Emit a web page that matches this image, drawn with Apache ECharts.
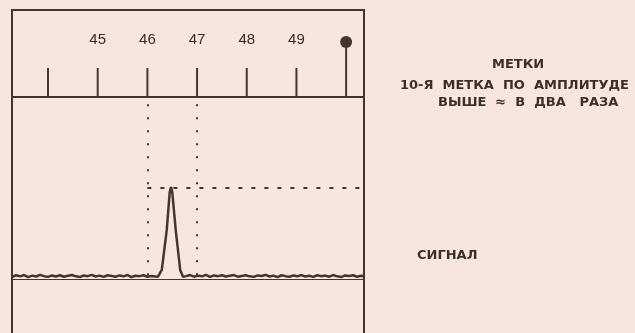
<!DOCTYPE html>
<html><head><meta charset="utf-8">
<script src="https://cdn.jsdelivr.net/npm/echarts@6/dist/echarts.min.js"></script>
<style>html,body{margin:0;padding:0;background:#f6e6df;}#c{width:635px;height:333px;}</style>
</head><body><div id="c"></div>
<script>
// Marker positions (frequency units) and their heights
const markX = [44, 45, 46, 47, 48, 49, 50];
const markH = [1, 1, 1, 1, 1, 1, 1.9];
const markLabels = ['', '45', '46', '47', '48', '49', ''];
// Signal trace (x in same units, y amplitude)
const signalX = [43.28,43.36,43.44,43.52,43.60,43.68,43.76,43.84,43.92,44.00,44.08,44.16,44.24,44.32,44.40,44.48,44.56,44.64,44.72,44.80,44.88,44.96,45.04,45.12,45.20,45.28,45.36,45.44,45.52,45.60,45.68,45.76,45.84,45.92,46.00,46.08,46.16,
  46.21,46.29,46.39,46.45,46.476,46.50,46.57,46.66,46.72,
  46.78,46.86,46.94,47.02,47.10,47.18,47.26,47.34,47.42,47.50,47.58,47.66,47.74,47.82,47.90,47.98,48.06,48.14,48.22,48.30,48.38,48.46,48.54,48.62,48.70,48.78,48.86,48.94,49.02,49.10,49.18,49.26,49.34,49.42,49.50,49.58,49.66,49.74,49.82,49.90,49.98,50.06,50.14,50.22,50.30,50.36];
const signalY = [1.2,2.0,1.4,2.1,1.0,1.8,1.3,2.2,1.5,1.1,1.9,1.3,2.0,1.2,1.7,2.1,1.4,1.0,1.9,1.5,2.2,1.3,1.8,1.1,2.0,1.6,1.2,1.9,1.4,2.1,1.0,1.7,1.5,2.0,1.2,1.6,1.3,
  1.1,4.9,26.9,47.8,50.5,47.8,26.9,4.9,1.1,
  1.5,2.1,1.2,1.8,1.4,2.2,1.1,1.9,1.5,2.0,1.3,1.7,2.1,1.2,1.6,2.0,1.4,1.1,1.9,1.6,2.2,1.3,1.8,1.0,2.0,1.5,1.2,1.9,1.4,2.1,1.3,1.7,1.1,2.0,1.5,1.8,1.2,2.1,1.4,1.0,1.9,1.6,2.0,1.2,1.7,1.3];
// Guide lines
const guideX = [46, 47];
const ampLevel = 50;

const ink = '#433630';
const xMin = 43.275, xMax = 50.36;
const chart = echarts.init(document.getElementById('c'), null, {renderer: 'canvas'});
const sig = signalX.map((x, i) => [x, signalY[i]]);
const tf = 'bold 13px "DejaVu Sans"';
chart.setOption({
  backgroundColor: '#f6e6df',
  animation: false,
  grid: [
    {left: 12, top: 10, width: 352, height: 87, show: true, borderColor: ink, borderWidth: 2, backgroundColor: 'transparent', outerBoundsMode: 'none', containLabel: false},
    {left: 12, top: 97, width: 352, height: 251, show: true, borderColor: ink, borderWidth: 2, backgroundColor: 'transparent', outerBoundsMode: 'none', containLabel: false}
  ],
  xAxis: [
    {gridIndex: 0, type: 'value', min: xMin, max: xMax, axisLine: {show: true, lineStyle: {color: ink, width: 2}}, axisTick: {show: false}, axisLabel: {show: false}, splitLine: {show: false}},
    {gridIndex: 1, type: 'value', min: xMin, max: xMax, axisLine: {show: true, onZero: true, lineStyle: {color: ink, width: 1}}, axisTick: {show: false}, axisLabel: {show: false}, splitLine: {show: false}}
  ],
  yAxis: [
    {gridIndex: 0, type: 'value', min: 0, max: 3, show: false, splitLine: {show: false}},
    {gridIndex: 1, type: 'value', min: -38, max: 100, show: false, splitLine: {show: false}}
  ],
  series: [
    {type: 'bar', xAxisIndex: 0, yAxisIndex: 0, barWidth: 2,
     data: markX.map((x, i) => [x, markH[i]]),
     itemStyle: {color: ink},
     label: {show: true, position: 'top', distance: 21, color: '#352b26', fontSize: 15, fontFamily: 'Liberation Sans, Arial, sans-serif',
       formatter: p => markLabels[p.dataIndex]}},
    {type: 'scatter', xAxisIndex: 0, yAxisIndex: 0, symbol: 'circle', symbolSize: 12,
     data: [[markX[6], markH[6]]], itemStyle: {color: ink, opacity: 1}},
    {type: 'line', xAxisIndex: 1, yAxisIndex: 1, data: sig, showSymbol: false, symbol: 'none',
     lineStyle: {color: ink, width: 2.5},
     markLine: {silent: true, symbol: 'none', label: {show: false},
       lineStyle: {color: ink, width: 2, type: [2, 11]},
       data: [
         [{coord: [guideX[0], 2]}, {coord: [guideX[0], 100]}],
         [{coord: [guideX[1], 2]}, {coord: [guideX[1], 100]}],
         [{coord: [guideX[0], ampLevel], lineStyle: {type: [4, 9]}}, {coord: [xMax, ampLevel]}]
       ]}}
  ],
  graphic: [
    {type: 'text', left: 492, top: 58, style: {text: 'МЕТКИ', fill: '#3a302b', font: tf}},
    {type: 'text', left: 400, top: 79, style: {text: '10-Я  МЕТКА  ПО  АМПЛИТУДЕ', fill: '#3a302b', font: tf}},
    {type: 'text', left: 438, top: 96, style: {text: 'ВЫШЕ  ≈  В  ДВА   РАЗА', fill: '#3a302b', font: tf}},
    {type: 'text', left: 417, top: 249, style: {text: 'СИГНАЛ', fill: '#3a302b', font: tf}}
  ]
});
</script>
</body></html>
